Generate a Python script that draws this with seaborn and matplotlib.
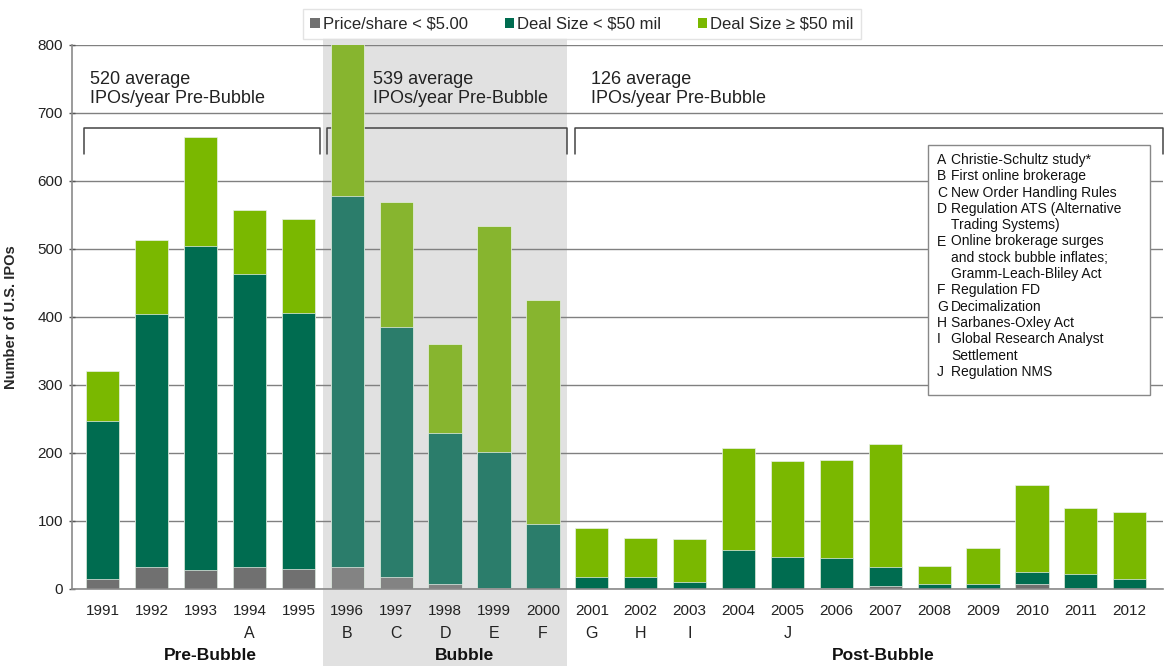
import matplotlib
matplotlib.use("Agg")
import matplotlib.pyplot as plt
import seaborn as sns
import numpy as np
from matplotlib.patches import Patch, Rectangle
from matplotlib.transforms import blended_transform_factory

# ---------------- data ----------------
years = [str(y) for y in range(1991, 2013)]
price_lt5 = [14, 32, 28, 32, 29, 32, 18, 8, 1, 0, 0, 0, 0, 0, 0, 1, 5, 0, 0, 8, 1, 0]
deal_lt50 = [233, 372, 476, 431, 377, 546, 367, 221, 200, 96, 18, 18, 10, 57, 47, 45, 27, 8, 8, 17, 21, 14]
deal_ge50 = [73, 109, 161, 94, 138, 272, 184, 131, 333, 329, 72, 57, 63, 150, 141, 143, 181, 26, 53, 128, 97, 99]
period = ["Pre-Bubble"] * 5 + ["Bubble"] * 5 + ["Post-Bubble"] * 12
event_letters = ["", "", "", "A", "", "B", "C", "D", "E", "F", "G", "H", "I", "", "J",
                 "", "", "", "", "", "", ""]
period_notes = ["520 average\nIPOs/year Pre-Bubble",
                "539 average\nIPOs/year Pre-Bubble",
                "126 average\nIPOs/year Pre-Bubble"]
legend_labels = ["Price/share < $5.00", "Deal Size < $50 mil", "Deal Size \u2265 $50 mil"]
event_notes = [("A", "Christie-Schultz study*"),
               ("B", "First online brokerage"),
               ("C", "New Order Handling Rules"),
               ("D", "Regulation ATS (Alternative"),
               ("", "Trading Systems)"),
               ("E", "Online brokerage surges"),
               ("", "and stock bubble inflates;"),
               ("", "Gramm-Leach-Bliley Act"),
               ("F", "Regulation FD"),
               ("G", "Decimalization"),
               ("H", "Sarbanes-Oxley Act"),
               ("I", "Global Research Analyst"),
               ("", "Settlement"),
               ("J", "Regulation NMS")]

# ---------------- styling ----------------
sns.set_theme(style="white")
plt.rcParams["font.family"] = ["Liberation Sans", "DejaVu Sans"]

C_GRAY, C_DARK, C_LIGHT = "#707070", "#006c50", "#7ab800"
C_GRAY_B, C_DARK_B, C_LIGHT_B = "#838383", "#2b7d6b", "#87b52f"

def colors(normal, bubble):
    return [bubble if p == "Bubble" else normal for p in period]

gray_top = np.array(price_lt5)
dark_top = gray_top + np.array(deal_lt50)
total = dark_top + np.array(deal_ge50)

fig = plt.figure(figsize=(11.65, 6.66), dpi=100)
ax = fig.add_axes([72 / 1165, 1 - 589 / 666, (1163 - 72) / 1165, (589 - 45) / 666])
ax.set_facecolor("none")

bw = 0.68
for heights, cn, cb in [(total, C_LIGHT, C_LIGHT_B), (dark_top, C_DARK, C_DARK_B),
                        (gray_top, C_GRAY, C_GRAY_B)]:
    sns.barplot(x=years, y=heights, hue=years, palette=colors(cn, cb), legend=False,
                width=bw, order=years, hue_order=years, ax=ax,
                edgecolor="#e8f0e8", linewidth=0.5, saturation=1, zorder=2)

ax.set_ylim(0, 800)
ax.set_xlim(-0.63, 21.68)
ax.set_yticks(range(0, 801, 100))
ax.yaxis.grid(True, color="#808080", lw=1.0)
ax.xaxis.grid(False)
ax.set_axisbelow(True)

# shaded bubble region extending to the bottom of the figure
trans = blended_transform_factory(ax.transData, fig.transFigure)
ax.add_patch(Rectangle((4.5, 0), 5.0, 1 - 38 / 666, transform=trans, facecolor="#e1e1e1",
                       edgecolor="none", clip_on=False, zorder=0.2))

# spines / ticks
for s in ["top", "right"]:
    ax.spines[s].set_visible(False)
for s in ["left", "bottom"]:
    ax.spines[s].set_color("#8a8a8a")
    ax.spines[s].set_linewidth(1.2)
ax.tick_params(axis="y", length=5, width=1, color="#555555", labelsize=11,
               labelcolor="#222222", direction="inout", pad=4, left=True)
ax.set_xticks(range(len(years)))
ax.set_xticklabels(years)
ax.tick_params(axis="x", length=0, labelsize=11, labelcolor="#222222", pad=11)
ax.set_xticks(np.arange(-0.5, len(years)), minor=True)
ax.tick_params(axis="x", which="minor", length=6, width=1.2, color="#555555", direction="inout")
ax.set_xlabel("")
ax.set_ylabel("Number of U.S. IPOs", fontsize=10.5, fontweight="bold", labelpad=14)

# brackets and period notes
br_y, br_low = 678, 640
for (x0, x1), note, tx in zip([(-0.39, 4.44), (4.58, 9.50), (9.65, 21.68)], period_notes,
                              [-0.27, 5.53, 9.98]):
    ax.plot([x0, x0, x1, x1], [br_low, br_y, br_y, br_low], color="#444444", lw=1.1,
            zorder=1.5, clip_on=False)
    ax.text(tx, 735, note, fontsize=13, color="#222222", va="center", ha="left",
            linespacing=1.15, zorder=3)

# event letters and group labels below the axis
tx_axes = blended_transform_factory(ax.transData, fig.transFigure)
for i, letter in enumerate(event_letters):
    if letter:
        ax.text(i, 1 - 634 / 666, letter, transform=tx_axes, ha="center", va="center",
                fontsize=11.5, color="#222222")
for name, xc in [("Pre-Bubble", 2.2), ("Bubble", 7.4), ("Post-Bubble", 15.95)]:
    ax.text(xc, 1 - 655 / 666, name, transform=tx_axes, ha="center", va="center",
            fontsize=12.5, fontweight="bold", color="#111111")

# legend above plot
handles = [Patch(facecolor=c, edgecolor="none") for c in [C_GRAY, C_DARK, C_LIGHT]]
leg = fig.legend(handles, legend_labels, loc="center", bbox_to_anchor=(582 / 1165, 1 - 24 / 666),
                 ncol=3, frameon=True, fontsize=12, handlelength=0.55, handleheight=0.55,
                 handletextpad=0.2, columnspacing=2.2, borderpad=0.45, borderaxespad=0,
                 fancybox=False)
leg.get_frame().set_edgecolor("#dddddd")
leg.get_frame().set_linewidth(1.0)

# event notes box
fig.patches.append(Rectangle((928 / 1165, 1 - 395 / 666), (1150 - 928) / 1165, (395 - 145) / 666,
                             transform=fig.transFigure, facecolor="white",
                             edgecolor="#888888", lw=1.0, zorder=5))
y0, dy = 160, 16.3
for k, (letter, txt) in enumerate(event_notes):
    yy = 1 - (y0 + k * dy) / 666
    if letter:
        fig.text(937 / 1165, yy, letter, fontsize=10, va="center", ha="left",
                 color="#111111", zorder=6)
    fig.text(951 / 1165, yy, txt, fontsize=10, va="center", ha="left",
             color="#111111", zorder=6)

fig.savefig("out.png", dpi=100)
